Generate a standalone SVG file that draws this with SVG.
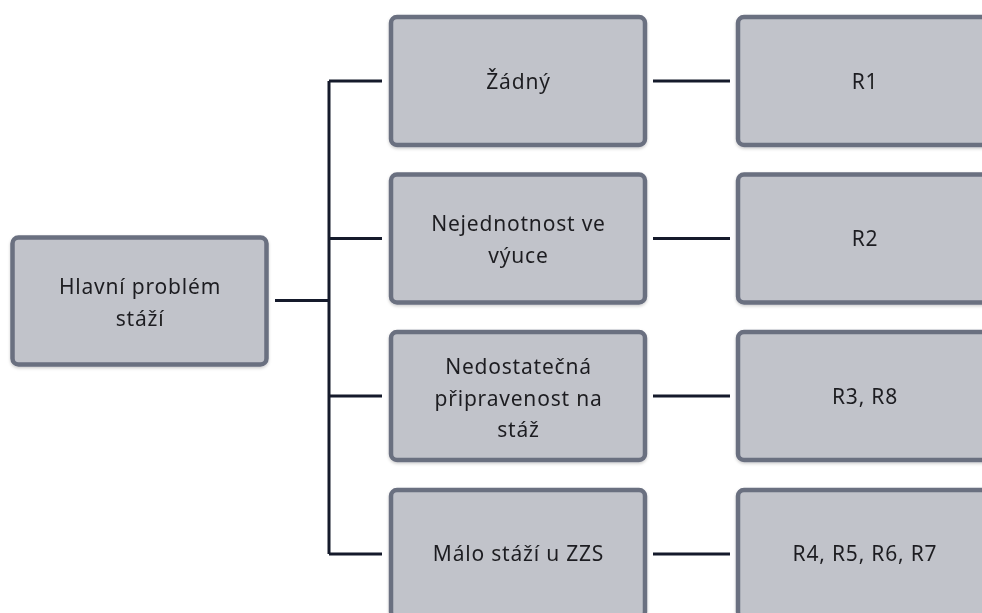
<svg xmlns="http://www.w3.org/2000/svg" width="982" height="613" viewBox="0 0 982 613">
<defs>
<style>
.box{fill:#c1c3ca;stroke:#6a6f80;stroke-width:4.5;}
.lbl{font-family:"Noto Sans","Open Sans","Liberation Sans",sans-serif;font-size:21px;letter-spacing:0.8px;fill:#1f1f22;text-anchor:middle;}
.con{stroke:#151a2b;stroke-width:3;fill:none;}
</style>
<filter id="sh" x="-10%" y="-10%" width="120%" height="130%">
<feDropShadow dx="0" dy="1.5" stdDeviation="1.5" flood-color="#000" flood-opacity="0.2"/>
</filter>
</defs>
<rect width="982" height="613" fill="#ffffff"/>
<g id="connectors">
<path class="con" d="M275 300.5H329M329 81V554M329 81H382M329 238.5H382M329 396H382M329 554H382"/>
<path class="con" d="M653 81H730M653 238.5H730M653 396H730M653 554H730"/>
</g>
<g id="root" filter="url(#sh)">
<rect class="box" x="12.5" y="237.5" width="254" height="127" rx="6"/>
<text class="lbl" x="140" y="294">Hlavní problém</text>
<text class="lbl" x="140" y="326">stáží</text>
</g>
<g id="p1" filter="url(#sh)">
<rect class="box" x="391" y="17" width="254" height="128" rx="6"/>
<text class="lbl" x="518.5" y="89">Žádný</text>
</g>
<g id="p2" filter="url(#sh)">
<rect class="box" x="391" y="174.5" width="254" height="128" rx="6"/>
<text class="lbl" x="518.5" y="231">Nejednotnost ve</text>
<text class="lbl" x="518.5" y="263">výuce</text>
</g>
<g id="p3" filter="url(#sh)">
<rect class="box" x="391" y="332" width="254" height="128" rx="6"/>
<text class="lbl" x="518.5" y="374">Nedostatečná</text>
<text class="lbl" x="518.5" y="406">připravenost na</text>
<text class="lbl" x="518.5" y="437">stáž</text>
</g>
<g id="p4" filter="url(#sh)">
<rect class="box" x="391" y="490" width="254" height="128" rx="6"/>
<text class="lbl" x="518.5" y="561">Málo stáží u ZZS</text>
</g>
<g id="r1" filter="url(#sh)">
<rect class="box" x="738" y="17" width="300" height="128" rx="6"/>
<text class="lbl" x="865" y="89">R1</text>
</g>
<g id="r2" filter="url(#sh)">
<rect class="box" x="738" y="174.5" width="300" height="128" rx="6"/>
<text class="lbl" x="865" y="246">R2</text>
</g>
<g id="r3" filter="url(#sh)">
<rect class="box" x="738" y="332" width="300" height="128" rx="6"/>
<text class="lbl" x="865" y="404">R3, R8</text>
</g>
<g id="r4" filter="url(#sh)">
<rect class="box" x="738" y="490" width="300" height="128" rx="6"/>
<text class="lbl" x="865" y="561">R4, R5, R6, R7</text>
</g>
</svg>
